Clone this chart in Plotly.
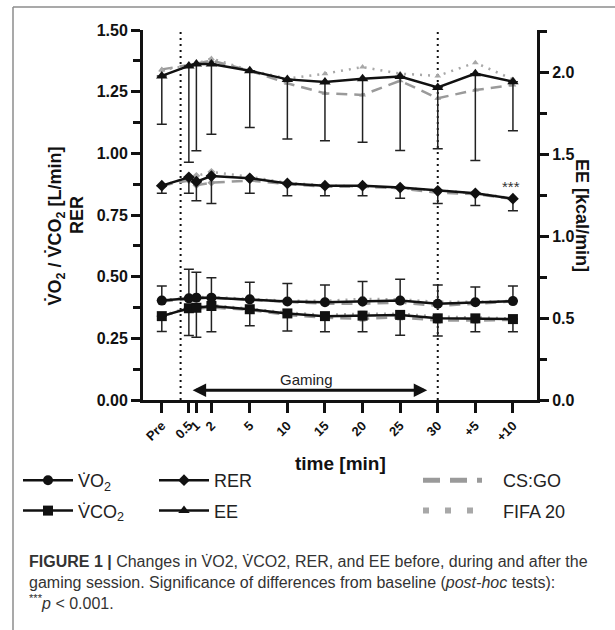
import plotly.graph_objects as go

# ---------------- data ----------------
time_labels = ["Pre", "0.5", "1", "2", "5", "10", "15", "20", "25", "30", "+5", "+10"]
time_pos = [-6.7, -3.1, -2.1, -0.1, 5, 10, 15, 20, 25, 30, 35, 40]

vo2_mean = [0.403, 0.412, 0.415, 0.415, 0.408, 0.399, 0.396, 0.399, 0.403, 0.390, 0.396, 0.401]
vo2_sd = [0.059, 0.118, 0.103, 0.081, 0.069, 0.073, 0.070, 0.081, 0.087, 0.076, 0.062, 0.061]
vo2_csgo = [0.400, 0.410, 0.410, 0.415, 0.405, 0.398, 0.390, 0.390, 0.395, 0.382, 0.390, 0.400]
vo2_fifa = [0.405, 0.415, 0.418, 0.418, 0.410, 0.402, 0.402, 0.410, 0.408, 0.398, 0.398, 0.402]

vco2_mean = [0.340, 0.372, 0.374, 0.381, 0.368, 0.351, 0.340, 0.342, 0.345, 0.331, 0.331, 0.328]
vco2_sd = [0.062, 0.111, 0.120, 0.104, 0.067, 0.071, 0.063, 0.065, 0.082, 0.072, 0.054, 0.051]
vco2_csgo = [0.340, 0.370, 0.370, 0.375, 0.365, 0.345, 0.333, 0.330, 0.335, 0.322, 0.322, 0.325]
vco2_fifa = [0.342, 0.375, 0.378, 0.385, 0.370, 0.355, 0.345, 0.350, 0.350, 0.338, 0.335, 0.330]

rer_mean = [0.869, 0.903, 0.885, 0.908, 0.899, 0.878, 0.869, 0.869, 0.861, 0.848, 0.838, 0.816]
rer_sd = [0.031, 0.065, 0.077, 0.111, 0.061, 0.050, 0.041, 0.041, 0.043, 0.051, 0.049, 0.049]
rer_csgo = [0.869, 0.890, 0.871, 0.881, 0.890, 0.875, 0.865, 0.865, 0.858, 0.840, 0.835, 0.815]
rer_fifa = [0.870, 0.900, 0.909, 0.925, 0.905, 0.880, 0.870, 0.866, 0.860, 0.850, 0.838, 0.818]

ee_mean = [1.976, 2.037, 2.049, 2.049, 2.008, 1.955, 1.939, 1.959, 1.972, 1.906, 1.990, 1.941]
ee_sd = [0.295, 0.588, 0.529, 0.429, 0.347, 0.364, 0.358, 0.388, 0.450, 0.374, 0.529, 0.299]
ee_csgo = [2.016, 2.040, 2.050, 2.070, 2.008, 1.931, 1.870, 1.860, 1.947, 1.840, 1.890, 1.921]
ee_fifa = [2.010, 2.040, 2.050, 2.083, 2.010, 1.960, 1.990, 2.030, 1.990, 1.976, 2.057, 1.955]

left_ticks = [0.0, 0.25, 0.5, 0.75, 1.0, 1.25, 1.5]
right_ticks = [0.0, 0.5, 1.0, 1.5, 2.0]

# ---------------- layout constants ----------------
W, H = 615, 630
ML, MR, MT, MB = 143, 78, 30, 230
PW, PH = W - ML - MR, H - MT - MB
FONT = "Liberation Sans, Arial, sans-serif"
BLACK = "#111111"
GRAY_D = "#9a9a9a"
GRAY_F = "#a8a8a8"


def px_x(px):
    return (px - ML) / PW


def px_y(py):
    return (H - MB - py) / PH


fig = go.Figure()

n = len(time_pos)
zeros = [0] * n

series = [
    ("V\u0307O<sub>2</sub>", vo2_mean, vo2_sd, vo2_csgo, vo2_fifa, "circle", 10, "y", True, "legend"),
    ("V\u0307CO<sub>2</sub>", vco2_mean, vco2_sd, vco2_csgo, vco2_fifa, "square", 10, "y", False, "legend"),
    ("RER", rer_mean, rer_sd, rer_csgo, rer_fifa, "diamond", 9, "y", False, "legend2"),
    ("EE", ee_mean, ee_sd, ee_csgo, ee_fifa, "triangle-up", 10, "y2", False, "legend2"),
]

# gray game-specific lines (underneath)
for name, m, sd, cs, ff, sym, sz, yax, up, lg in series:
    fig.add_trace(go.Scatter(
        x=time_pos, y=cs, yaxis=yax, mode="lines+markers", showlegend=False,
        line=dict(color=GRAY_D, width=2.5, dash="11px,7px"),
        marker=dict(symbol=sym, size=6, color=GRAY_D), hoverinfo="skip"))
    fig.add_trace(go.Scatter(
        x=time_pos, y=ff, yaxis=yax, mode="lines+markers", showlegend=False,
        line=dict(color=GRAY_F, width=2.5, dash="2px,6px"),
        marker=dict(symbol=sym, size=6, color=GRAY_F), hoverinfo="skip"))

# black mean lines with one-sided SD bars
for name, m, sd, cs, ff, sym, sz, yax, up, lg in series:
    err = dict(type="data", symmetric=False, color="#222222", thickness=1.5, width=5,
               array=sd if up else zeros, arrayminus=zeros if up else sd)
    fig.add_trace(go.Scatter(
        x=time_pos, y=m, yaxis=yax, mode="lines+markers", name=name,
        legend=lg, legendgroup=name,
        line=dict(color=BLACK, width=2.5),
        marker=dict(symbol=sym, size=sz, color=BLACK),
        error_y=err))

# legend-only entries for the games
fig.add_trace(go.Scatter(x=[None], y=[None], mode="lines", name="CS:GO", legend="legend3",
                         legendgroup="cs",
                         line=dict(color=GRAY_D, width=5, dash="17px,10px,17px,10px,5px,100px")))
fig.add_trace(go.Scatter(x=[None], y=[None], mode="lines", name="FIFA 20", legend="legend3",
                         legendgroup="ff",
                         line=dict(color=GRAY_F, width=6, dash="6px,16px,6px,16px,6px,100px")))

# dotted vertical lines (start and end of gaming)
for xv in [-4.2, 30]:
    fig.add_shape(type="line", xref="x", yref="paper", x0=xv, x1=xv, y0=0, y1=1,
                  line=dict(color=BLACK, width=2, dash="2px,4px"), layer="below")

# Gaming arrow
fig.add_annotation(x=28.6, y=0.04, ax=-2.8, ay=0.04, xref="x", yref="y", axref="x", ayref="y",
                   text="", showarrow=True, arrowhead=2, arrowside="end+start", arrowwidth=3,
                   arrowsize=0.9, arrowcolor=BLACK, standoff=0, startstandoff=0)
fig.add_annotation(x=12.6, y=0.085, xref="x", yref="y", text="Gaming", showarrow=False,
                   font=dict(family=FONT, size=15, color="#222"))

# significance marker
fig.add_annotation(x=39.8, y=0.867, xref="x", yref="y", text="***", showarrow=False,
                   font=dict(family=FONT, size=15, color="#333"))

# left axis title (two lines)
fig.add_annotation(x=px_x(43), y=px_y(226), xref="paper", yref="paper",
                   text="<b>V\u0307O<sub>2</sub> / V\u0307CO<sub>2</sub> [L/min]</b>",
                   textangle=-90, showarrow=False,
                   font=dict(family=FONT, size=18, color=BLACK))
fig.add_annotation(x=px_x(65), y=px_y(215), xref="paper", yref="paper",
                   text="<b>RER</b>", textangle=-90, showarrow=False,
                   font=dict(family=FONT, size=18, color=BLACK))

# x-axis title (placed between legend columns)
fig.add_annotation(x=px_x(340), y=px_y(476), xref="paper", yref="paper", text="<b>time [min]</b>",
                   showarrow=False, font=dict(family=FONT, size=19, color="#111"))

# right axis title
fig.add_annotation(x=px_x(594), y=px_y(215), xref="paper", yref="paper", text="<b>EE [kcal/min]</b>",
                   textangle=90, showarrow=False, font=dict(family=FONT, size=18, color="#111"))

# caption
caption = ("<b>FIGURE 1 |</b> Changes in V\u0307O2, V\u0307CO2, RER, and EE before, during and after the<br>"
           "gaming session. Significance of differences from baseline (<i>post-hoc</i> tests):<br>"
           "<sup>***</sup><i>p</i> &lt; 0.001.")
fig.add_annotation(x=px_x(27), y=px_y(551), xref="paper", yref="paper", text=caption,
                   showarrow=False, xanchor="left", yanchor="top", align="left",
                   font=dict(family=FONT, size=16, color="#333"))

# frame lines
fig.add_shape(type="line", xref="paper", yref="paper", x0=px_x(13), x1=px_x(W), y0=px_y(7), y1=px_y(7),
              line=dict(color="#8c8c8c", width=1.5))
fig.add_shape(type="line", xref="paper", yref="paper", x0=px_x(13), x1=px_x(13), y0=px_y(7), y1=px_y(H),
              line=dict(color="#8c8c8c", width=1.5))

axis_common = dict(showline=True, linecolor=BLACK, linewidth=3, ticks="outside", tickcolor=BLACK,
                   tickwidth=3, showgrid=False, zeroline=False, fixedrange=True)

legend_common = dict(xref="container", yref="container", xanchor="left", yanchor="top",
                     font=dict(family=FONT, size=18, color="#222"), tracegroupgap=4,
                     bgcolor="rgba(0,0,0,0)")

fig.update_layout(
    width=W, height=H, margin=dict(l=ML, r=MR, t=MT, b=MB, autoexpand=False),
    paper_bgcolor="white", plot_bgcolor="white",
    font=dict(family=FONT, color=BLACK),
    xaxis=dict(range=[-9.2, 43.2], tickvals=time_pos, ticktext=time_labels, tickangle=-45,
               ticklen=10, tickfont=dict(family=FONT, size=13, weight="bold", color=BLACK),
               **axis_common),
    yaxis=dict(range=[0, 1.5], tickvals=left_ticks, tickformat=".2f", ticklen=9,
               tickfont=dict(family=FONT, size=16, weight="bold", color=BLACK),
               minor=dict(dtick=0.125, ticklen=7, tickwidth=3, ticks="outside", tickcolor=BLACK),
               **axis_common),
    yaxis2=dict(range=[0, PH / 164.0], overlaying="y", side="right", tickvals=right_ticks,
                tickformat=".1f", ticklen=9,
                tickfont=dict(family=FONT, size=16, weight="bold", color=BLACK),
                minor=dict(dtick=0.25, ticklen=7, tickwidth=3, ticks="outside", tickcolor=BLACK),
                **axis_common),
    legend=dict(x=18 / W, y=1 - 462 / H, itemwidth=50, **legend_common),
    legend2=dict(x=154 / W, y=1 - 462 / H, itemwidth=50, **legend_common),
    legend3=dict(x=418 / W, y=1 - 462 / H, itemwidth=75, **legend_common),
)

fig.write_html("out.html")
